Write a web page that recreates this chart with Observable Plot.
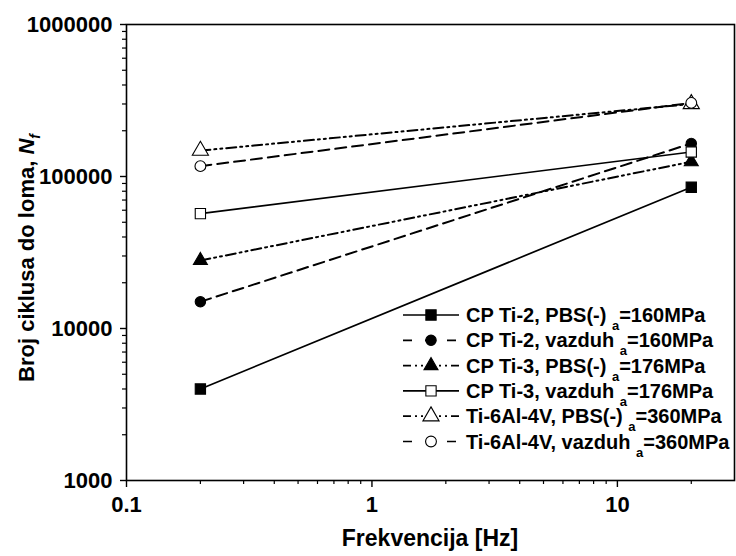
<!DOCTYPE html>
<html>
<head>
<meta charset="utf-8">
<script src="https://cdn.jsdelivr.net/npm/d3@7"></script>
<script src="https://cdn.jsdelivr.net/npm/@observablehq/plot@0.6"></script>
<style>
  html, body { margin: 0; padding: 0; background: white; }
  #chart { width: 736px; height: 556px; }
</style>
</head>
<body>
<div id="chart"></div>
<script>
// ---- data ----
const freq = [0.2, 20];
const cpTi2PBS = [4000, 85000];
const cpTi2Air = [15000, 165000];
const cpTi3PBS = [28000, 125000];
const cpTi3Air = [57000, 145000];
const ti64PBS = [148000, 300000];
const ti64Air = [117000, 305000];

const legendMain = [
  "CP Ti-2, PBS(-) ",
  "CP Ti-2, vazduh ",
  "CP Ti-3, PBS(-) ",
  "CP Ti-3, vazduh ",
  "Ti-6Al-4V, PBS(-) ",
  "Ti-6Al-4V, vazduh "
];
const legendSub = "a";
const legendStress = ["=160MPa", "=160MPa", "=176MPa", "=176MPa", "=360MPa", "=360MPa"];

const xMajor = [0.1, 1, 10];
const xMinor = [0.2,0.3,0.4,0.5,0.6,0.7,0.8,0.9,2,3,4,5,6,7,8,9,20];
const yMajor = [1000, 10000, 100000, 1000000];
const yMinor = [2000,3000,4000,5000,6000,7000,8000,9000,20000,30000,40000,50000,60000,70000,80000,90000,200000,300000,400000,500000,600000,700000,800000,900000];

const xTitle = "Frekvencija [Hz]";
const yTitleMain = "Broj ciklusa do loma, ";
const yTitleN = "N";
const yTitleSub = "f";

// ---- styling per series ----
const DASH = "11,6";
const DDOT = "10,4,2,4,2,4";
const series = [
  {vals: cpTi2PBS, symbol: "square",   fill: "black", dash: null, r: 5.8},
  {vals: cpTi2Air, symbol: "circle",   fill: "black", dash: DASH, r: 5.2},
  {vals: cpTi3PBS, symbol: "triangle", fill: "black", dash: DDOT, r: 5.2},
  {vals: cpTi3Air, symbol: "square",   fill: "white", dash: null, r: 5.8},
  {vals: ti64PBS,  symbol: "triangle", fill: "white", dash: DDOT, r: 6.0},
  {vals: ti64Air,  symbol: "circle",   fill: "white", dash: DASH, r: 5.4}
];
series.forEach((s, k) => { s.rows = freq.map((f, i) => ({f, n: s.vals[i], k})); });

const lineMarks = series.map(s => Plot.line(s.rows, {
  x: "f", y: "n", stroke: "black", strokeWidth: s.dash ? 2 : 1.7,
  strokeDasharray: s.dash || undefined
}));
const dotMarks = series.map(s => Plot.dot(s.rows, {
  x: "f", y: "n", symbol: () => s.symbol, r: s.r,
  fill: s.fill, stroke: "black", strokeWidth: 1.1
}));

const FONT = "'Liberation Sans', Arial, Helvetica, sans-serif";

const plot = Plot.plot({
  width: 736,
  height: 556,
  marginLeft: 126,
  marginRight: 2,
  marginTop: 24,
  marginBottom: 76,
  style: {fontFamily: FONT, fontWeight: "bold", fontSize: "22px", background: "white", color: "black"},
  x: {type: "log", domain: [0.1, 30]},
  y: {type: "log", domain: [1000, 1000000]},
  marks: [
    ...lineMarks,
    ...dotMarks,
    Plot.axisX(xMajor, {tickSize: 7, tickPadding: 9, tickFormat: d => String(d), label: null, stroke: "black", strokeWidth: 1.4}),
    Plot.axisX(xMinor, {tickSize: 4, tickFormat: () => "", label: null, stroke: "black", strokeWidth: 1.2}),
    Plot.axisY(yMajor, {tickSize: 6, tickPadding: 8, tickFormat: d => String(d), label: null, stroke: "black", strokeWidth: 1.4}),
    Plot.axisY(yMinor, {tickSize: 4, tickFormat: () => "", label: null, stroke: "black", strokeWidth: 1.2}),
    Plot.frame({stroke: "black", strokeWidth: 1.6})
  ]
});

document.getElementById("chart").appendChild(plot);

// ---- titles and legend ----
const svg = d3.select(plot);

svg.append("text")
  .attr("x", 430).attr("y", 546)
  .attr("text-anchor", "middle")
  .style("font-family", FONT).style("font-weight", "bold").style("font-size", "23px")
  .attr("fill", "black")
  .text(xTitle);

const yt = svg.append("text")
  .attr("transform", "translate(34,258) rotate(-90)")
  .attr("text-anchor", "middle")
  .style("font-family", FONT).style("font-weight", "bold").style("font-size", "22px")
  .attr("fill", "black");
yt.append("tspan").text(yTitleMain);
yt.append("tspan").style("font-style", "italic").text(yTitleN);
yt.append("tspan").style("font-style", "italic").style("font-size", "14px").attr("dy", 6).text(yTitleSub);

const legend = svg.append("g").attr("class", "legend").attr("text-anchor", "start");
const symMap = {square: d3.symbolSquare, circle: d3.symbolCircle, triangle: d3.symbolTriangle};
const legendDash = [null, "9,13", "8,4,2,4,2,4", null, "8,4,2,4,2,4", "9,13"];
series.forEach((s, i) => {
  const cy = 315 + i * 25.3;
  legend.append("line")
    .attr("x1", 403).attr("x2", 459).attr("y1", cy).attr("y2", cy)
    .attr("stroke", "black").attr("stroke-width", 1.7)
    .attr("stroke-dasharray", legendDash[i]);
  legend.append("path")
    .attr("transform", `translate(431,${cy})`)
    .attr("d", d3.symbol(symMap[s.symbol], Math.PI * s.r * s.r)())
    .attr("fill", s.fill).attr("stroke", "black").attr("stroke-width", 1.1);
  const t = legend.append("text")
    .attr("x", 466).attr("y", cy + 7)
    .attr("text-anchor", "start")
    .style("font-family", FONT).style("font-weight", "bold").style("font-size", "20px")
    .attr("fill", "black");
  t.append("tspan").text(legendMain[i]);
  t.append("tspan").style("font-size", "13px").attr("dy", 8).text(legendSub);
  t.append("tspan").attr("dy", -8).text(legendStress[i]);
});
</script>
</body>
</html>
